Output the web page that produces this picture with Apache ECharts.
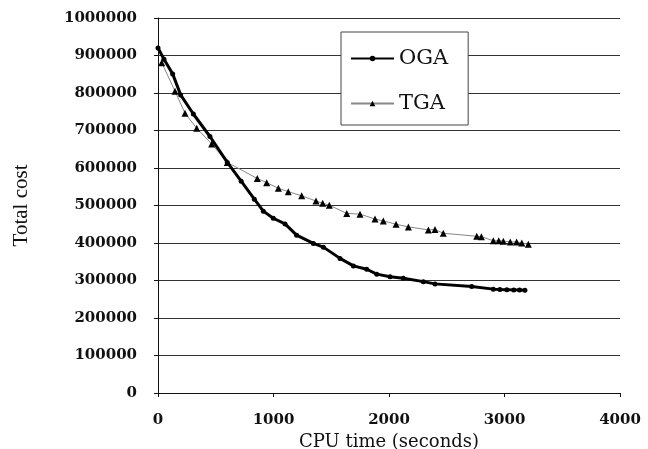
<!DOCTYPE html>
<head>
    <meta charset="utf-8">
    <title>ECharts</title>
</head>
<body style="margin:0;background:#fff">
    <div id="main" style="width:648px;height:449px"></div>
    <script src="https://cdn.jsdelivr.net/npm/echarts@6/dist/echarts.min.js"></script>
    <script type="text/javascript">
    // OGA: CPU time (s) / total cost
    var ogaTime = [0, 52, 127, 196, 306, 450, 600, 720, 834, 912, 998, 1100, 1200, 1345, 1432, 1576, 1692, 1807, 1894, 2009, 2124, 2297, 2398, 2716, 2903, 2960, 3020, 3080, 3130, 3177];
    var ogaCost = [920000, 890000, 851000, 795000, 744000, 684000, 615000, 565000, 517000, 485000, 466000, 451000, 421000, 399000, 389000, 359000, 339000, 330000, 317000, 310000, 306000, 297000, 291000, 284000, 277000, 276000, 275500, 275000, 274500, 274000];
    // TGA
    var tgaTime = [32, 147, 234, 335, 465, 600, 860, 941, 1042, 1128, 1244, 1368, 1426, 1483, 1634, 1749, 1879, 1951, 2061, 2168, 2341, 2398, 2470, 2760, 2800, 2903, 2950, 2990, 3050, 3105, 3150, 3206];
    var tgaCost = [881000, 805000, 746000, 706000, 664000, 615000, 572000, 561000, 546000, 537000, 526000, 512000, 506000, 501000, 479000, 477000, 464000, 459000, 450000, 443000, 435000, 436000, 426000, 418000, 417000, 406000, 406000, 405000, 403000, 403000, 400000, 397000];

    function pairs(xs, ys) {
        return xs.map(function (x, i) { return [x, ys[i]]; });
    }
    function plain(v) { return String(v); }

    var serif = "'DejaVu Serif', serif";
    var myChart = echarts.init(document.getElementById('main'));

    var option = {
        animation: false,
        backgroundColor: '#fff',
        grid: { left: 158, right: 28, top: 18, bottom: 56, outerBoundsMode: 'none', containLabel: false },
        legend: {
            orient: 'vertical',
            left: 341, top: 32,
            padding: [16, 20, 11, 9],
            itemGap: 24,
            itemWidth: 43, itemHeight: 7,
            backgroundColor: '#fff',
            borderColor: '#444', borderWidth: 1,
            textStyle: { fontFamily: serif, fontSize: 21, color: '#111', lineHeight: 20 },
            data: ['OGA', 'TGA']
        },
        xAxis: {
            type: 'value', min: 0, max: 4000, interval: 1000,
            name: 'CPU time (seconds)', nameLocation: 'middle', nameGap: 36,
            nameTextStyle: { fontFamily: serif, fontSize: 18, color: '#111' },
            axisLine: { lineStyle: { color: '#111', width: 1 } },
            axisTick: { show: true, length: 4, lineStyle: { color: '#111' } },
            axisLabel: { margin: 20, fontFamily: serif, fontWeight: 'bold', fontSize: 15, color: '#111', formatter: plain },
            splitLine: { show: false }
        },
        yAxis: {
            type: 'value', min: 0, max: 1000000, interval: 100000,
            name: 'Total cost', nameLocation: 'middle', nameGap: 126,
            nameTextStyle: { fontFamily: "'Liberation Serif', serif", fontSize: 21, color: '#111' },
            axisLine: { show: true, lineStyle: { color: '#111', width: 1 } },
            axisTick: { show: true, length: 4, lineStyle: { color: '#111' } },
            axisLabel: { margin: 21, fontFamily: serif, fontWeight: 'bold', fontSize: 15, color: '#111', formatter: plain },
            splitLine: { show: true, lineStyle: { color: '#333', width: 1 } }
        },
        series: [
            {
                name: 'OGA', type: 'line',
                symbol: 'circle', symbolSize: 5,
                lineStyle: { color: '#000', width: 3 },
                itemStyle: { color: '#000' },
                data: pairs(ogaTime, ogaCost),
                z: 3
            },
            {
                name: 'TGA', type: 'line',
                symbol: 'triangle', symbolSize: 7,
                lineStyle: { color: '#888', width: 1 },
                itemStyle: { color: '#000' },
                data: pairs(tgaTime, tgaCost),
                z: 2
            }
        ]
    };

    myChart.setOption(option);
    </script>
</body>
